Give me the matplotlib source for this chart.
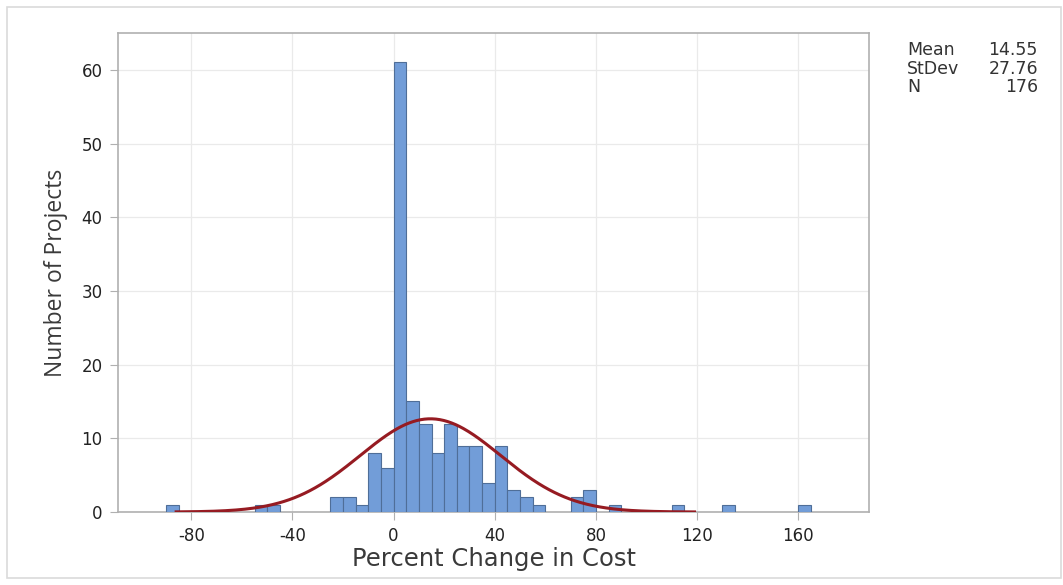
import numpy as np
import matplotlib
matplotlib.use("Agg")
import matplotlib.pyplot as plt
from matplotlib.patches import Rectangle

plt.rcParams['font.family'] = ['DejaVu Sans']
plt.rcParams['axes.unicode_minus'] = False

# Histogram data (bin width 5)
bin_left_edges = [-90, -55, -50, -25, -20, -15, -10, -5, 0, 5, 10, 15, 20, 25, 30,
                  35, 40, 45, 50, 55, 70, 75, 85, 110, 130, 160]
counts = [1, 1, 1, 2, 2, 1, 8, 6, 61, 15, 12, 8, 12, 9, 9,
          4, 9, 3, 2, 1, 2, 3, 1, 1, 1, 1]
bin_width = 5
mean_val = 14.55
stdev_val = 27.76
n_val = 176
x_ticks = [-80, -40, 0, 40, 80, 120, 160]
y_ticks = [0, 10, 20, 30, 40, 50, 60]

fig = plt.figure(figsize=(10.63, 5.85), dpi=100)
W, H = 1063, 585
ax = fig.add_axes([118 / W, 1 - 512 / H, (869 - 118) / W, (512 - 33) / H])

# outer border
fig.patches.append(Rectangle((7 / W, 7 / H), (1061 - 7) / W, (578 - 7) / H,
                             transform=fig.transFigure, fill=False,
                             edgecolor='#DADADA', linewidth=1.2))

ax.bar(bin_left_edges, counts, width=bin_width, align='edge',
       color='#729DD8', edgecolor='#4F6E98', linewidth=0.8, zorder=3)

xs = np.linspace(-86, 119, 400)
ys = n_val * bin_width / (stdev_val * np.sqrt(2 * np.pi)) * np.exp(-0.5 * ((xs - mean_val) / stdev_val) ** 2)
ax.plot(xs, ys, color='#961B22', linewidth=2.2, zorder=4)

ax.set_xlim(-109, 188)
ax.set_ylim(0, 65)
ax.set_xticks(x_ticks)
ax.set_yticks(y_ticks)
ax.grid(True, color='#EAEAEA', linewidth=0.9, zorder=0)
ax.set_axisbelow(True)
for s in ax.spines.values():
    s.set_color('#B0B0B0')
    s.set_linewidth(1.2)
ax.tick_params(axis='both', colors='#B0B0B0', labelcolor='#222222', labelsize=12,
               length=6, width=0.8)
ax.tick_params(axis='x', pad=5)
ax.tick_params(axis='y', pad=5)

ax.set_xlabel('Percent Change in Cost', fontsize=17.5, color='#3A3A3A', labelpad=1)
ax.set_ylabel('Number of Projects', fontsize=16.5, color='#3A3A3A', labelpad=10,
              family=['Open Sans', 'DejaVu Sans'])

# stats box
labels = ['Mean', 'StDev', 'N']
values = [f'{mean_val:.2f}', f'{stdev_val:.2f}', f'{n_val}']
for i, (l, v) in enumerate(zip(labels, values)):
    y = 1 - (50 + i * 18.5) / H
    fig.text(907 / W, y, l, fontsize=12.5, color='#333333', va='center', ha='left')
    fig.text(1038 / W, y, v, fontsize=12.5, color='#333333', va='center', ha='right')

fig.savefig('out.png', dpi=100, facecolor='white')
